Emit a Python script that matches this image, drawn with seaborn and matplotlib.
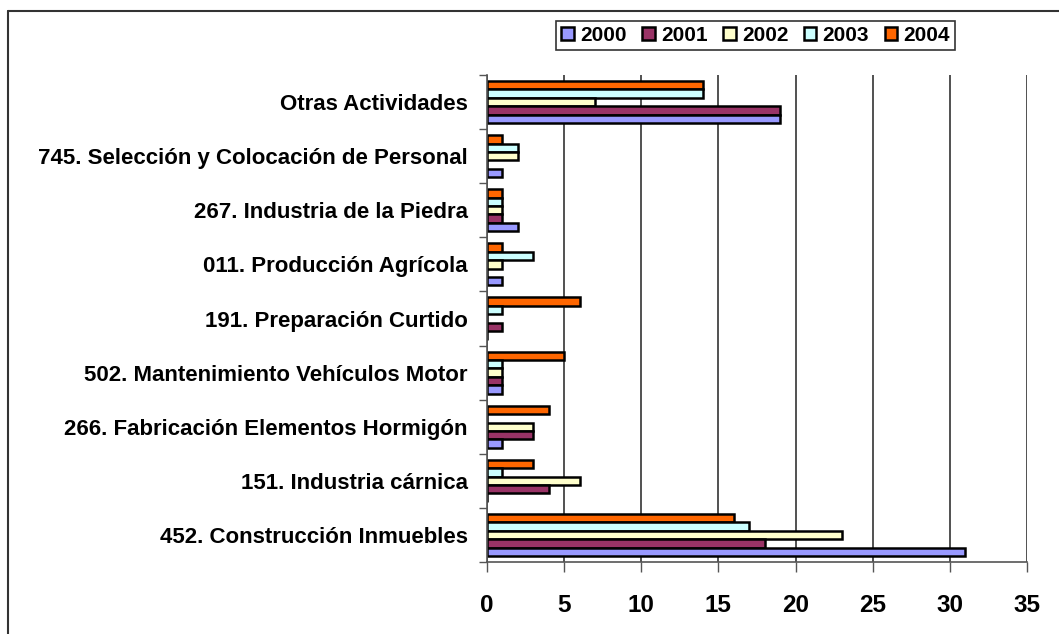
import matplotlib
matplotlib.use("Agg")
import matplotlib.pyplot as plt
import seaborn as sns
import pandas as pd
from matplotlib.lines import Line2D
from matplotlib.patches import Patch
from matplotlib.ticker import FixedLocator

# categories listed top to bottom
categories = [
    "Otras Actividades",
    "745. Selección y Colocación de Personal",
    "267. Industria de la Piedra",
    "011. Producción Agrícola",
    "191. Preparación Curtido",
    "502. Mantenimiento Vehículos Motor",
    "266. Fabricación Elementos Hormigón",
    "151. Industria cárnica",
    "452. Construcción Inmuebles",
]
years = ["2000", "2001", "2002", "2003", "2004"]
v2000 = [19, 1, 2, 1, 0, 1, 1, 0, 31]
v2001 = [19, 0, 1, 0, 1, 1, 3, 4, 18]
v2002 = [7, 2, 1, 1, 0, 1, 3, 6, 23]
v2003 = [14, 2, 1, 3, 1, 1, 0, 1, 17]
v2004 = [14, 1, 1, 1, 6, 5, 4, 3, 16]
colors = {"2000": "#9999FF", "2001": "#993366", "2002": "#FFFFCC",
          "2003": "#CCFFFF", "2004": "#FF6600"}

series = dict(zip(years, [v2000, v2001, v2002, v2003, v2004]))
df = pd.DataFrame([
    {"cat": c, "year": y, "val": series[y][i]}
    for y in years for i, c in enumerate(categories)
])

sns.set_style("white")
plt.rcParams["font.family"] = ["Liberation Sans", "DejaVu Sans"]
plt.rcParams["text.color"] = "black"
plt.rcParams["xtick.labelcolor"] = "black"
plt.rcParams["ytick.labelcolor"] = "black"

fig = plt.figure(figsize=(10.59, 6.34), dpi=100)
ax = fig.add_axes([487 / 1059, 1 - 562 / 634, (1027 - 487) / 1059, (562 - 75) / 634])

hue_order = years[::-1]  # 2004 drawn on top within each group
sns.barplot(data=df, y="cat", x="val", hue="year", order=categories,
            hue_order=hue_order, palette=colors, orient="h",
            edgecolor="black", linewidth=1.8, width=0.78, ax=ax,
            legend=False, saturation=1, errorbar=None)

ax.set_xlim(0, 35)
ax.set_ylim(len(categories) - 0.5, -0.5)
ax.set_xlabel("")
ax.set_ylabel("")
ax.set_xticks(range(0, 36, 5))
ax.xaxis.grid(True, color="#333333", linewidth=1.2)
ax.set_axisbelow(True)
for s in ["top", "right"]:
    ax.spines[s].set_visible(False)
for s in ["left", "bottom"]:
    ax.spines[s].set_color("#555555")
    ax.spines[s].set_linewidth(1.2)

ax.tick_params(axis="x", which="major", length=7, width=1, color="#555555",
               direction="out", labelsize=17.5, pad=16, bottom=True,
               labelcolor="black")
for t in ax.get_xticklabels():
    t.set_fontweight("bold")
ax.tick_params(axis="y", which="major", length=0, labelsize=16, pad=14,
               labelcolor="black")
for t in ax.get_yticklabels():
    t.set_fontweight("bold")
ax.yaxis.set_minor_locator(FixedLocator([i - 0.5 for i in range(len(categories) + 1)]))
ax.tick_params(axis="y", which="minor", length=6, width=1, color="#555555",
               direction="out", left=True)

handles = [Patch(facecolor=colors[y], edgecolor="black", linewidth=1.8, label=y)
           for y in years]
leg = fig.legend(handles=handles, loc="upper left",
                 bbox_to_anchor=(556 / 1059, 1 - 21 / 634), ncol=5,
                 frameon=True, fancybox=False, edgecolor="black",
                 prop={"weight": "bold", "size": 15},
                 handlelength=0.6, handleheight=0.6, handletextpad=0.3,
                 columnspacing=0.75, borderpad=0.25, borderaxespad=0)
leg.get_frame().set_linewidth(1.2)
for t in leg.get_texts():
    t.set_color("black")

# outer chart border (only top and left are visible in the image)
fig.add_artist(Line2D([8 / 1059, 1], [1 - 11 / 634, 1 - 11 / 634],
                      transform=fig.transFigure, color="#333333", linewidth=1.5))
fig.add_artist(Line2D([8 / 1059, 8 / 1059], [0, 1 - 11 / 634],
                      transform=fig.transFigure, color="#333333", linewidth=1.5))

fig.savefig("out.png", dpi=100)
